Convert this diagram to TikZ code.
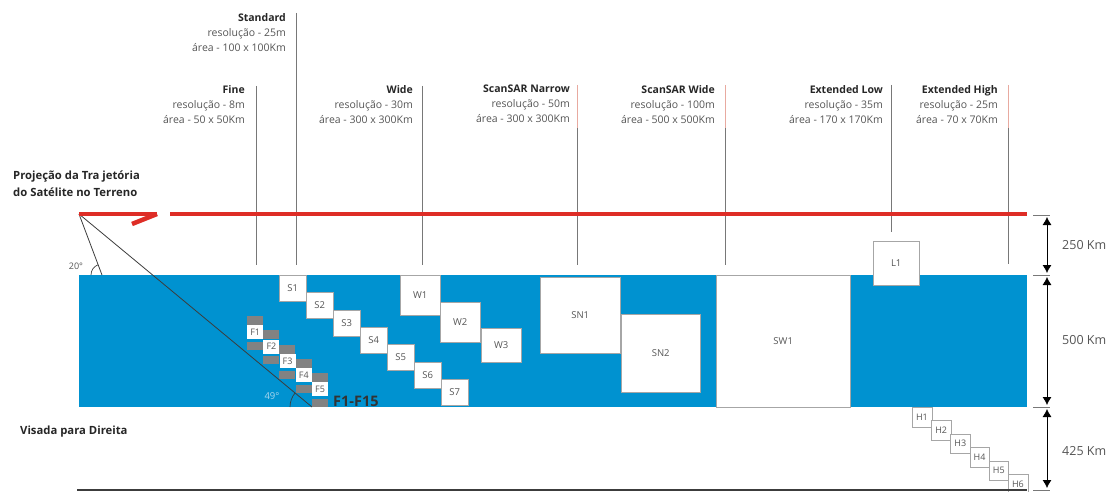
\documentclass[tikz,border=0pt]{standalone}
\usepackage{fontspec}
\setmainfont{Open Sans}
\usetikzlibrary{positioning,arrows.meta}

\definecolor{seablue}{RGB}{0,146,208}
\definecolor{trackred}{RGB}{222,45,38}
\definecolor{guidegray}{RGB}{120,120,120}
\definecolor{labelgray}{RGB}{85,85,85}
\definecolor{beamgray}{RGB}{130,130,130}
\definecolor{guidepink}{RGB}{232,170,160}
\definecolor{anglegray}{RGB}{60,60,60}
\definecolor{paleblue}{RGB}{170,215,238}

\begin{document}
\begin{tikzpicture}[x=1pt,y=-1pt,
      guide/.style={draw=guidegray,line width=0.8pt},
      pinkguide/.style={draw=guidepink,line width=0.8pt},
      track/.style={draw=trackred,line width=4.5pt},
      mode/.style={anchor=north east,align=right,inner sep=0pt,
        font=\fontsize{10.5}{15}\selectfont,text=labelgray},
      side/.style={anchor=north west,align=left,inner sep=0pt,
        font=\bfseries\fontsize{11.3}{17}\selectfont,text=black!85},
      box/.style={draw=gray!70,fill=white,inner sep=0pt,anchor=north west,
        font=\fontsize{9.5}{9.5}\selectfont,text=labelgray},
      sbox/.style={box,minimum width=27pt,minimum height=26pt},
      wbox/.style={box,minimum width=40pt,minimum height=40pt},
      hbox/.style={box,minimum width=19.5pt,minimum height=19.5pt,font=\fontsize{9}{9}\selectfont},
      fbox/.style={box,draw=none,minimum width=16pt,minimum height=14pt,font=\fontsize{9}{9}\selectfont},
      dim/.style={draw=black,line width=0.8pt,{Latex[width=9pt,length=8pt]}-{Latex[width=9pt,length=8pt]}},
      kmlabel/.style={anchor=west,inner sep=0pt,font=\fontsize{12.5}{13}\selectfont,text=labelgray}]

  \useasboundingbox (0,0) rectangle (1118,492);

  % swath on the ground
  \fill[seablue] (79,275) rectangle (1027,407);

  % look angles
  \coordinate (sat) at (79,214);
  \coordinate (near) at (102,275);
  \coordinate (far) at (312,407);
  \draw[anglegray,line width=0.8pt] (sat) -- (near);
  \draw[anglegray,line width=0.8pt] (sat) -- (far);
  \draw[anglegray,line width=0.7pt] (91,275) arc[start angle=180,end angle=249,radius=11];
  \draw[anglegray,line width=0.7pt] (290,407) arc[start angle=180,end angle=219.6,radius=22];
  \node[font=\fontsize{9}{9}\selectfont,text=labelgray] (ang20) at (76,266) {20°};
  \node[font=\fontsize{9.5}{9.5}\selectfont,text=paleblue] (ang49) at (272,396) {49°};

  % fine beams
  \fill[beamgray] (247,316) rectangle (263,325);
  \fill[beamgray] (247,342) rectangle (263,350);
  \node[fbox] (f1) at (247,325) {F1};
  \fill[beamgray] (263.2,330.3) rectangle (279.2,339.3);
  \fill[beamgray] (263.2,356.3) rectangle (279.2,364.3);
  \node[fbox] (f2) at (263.2,339.3) {F2};
  \fill[beamgray] (279.4,344.6) rectangle (295.4,353.6);
  \fill[beamgray] (279.4,370.6) rectangle (295.4,378.6);
  \node[fbox] (f3) at (279.4,353.6) {F3};
  \fill[beamgray] (295.6,358.9) rectangle (311.6,367.9);
  \fill[beamgray] (295.6,384.9) rectangle (311.6,392.9);
  \node[fbox] (f4) at (295.6,367.9) {F4};
  \fill[beamgray] (311.8,373.2) rectangle (327.8,382.2);
  \fill[beamgray] (311.8,399.2) rectangle (327.8,407);
  \node[fbox] (f5) at (311.8,382.2) {F5};
  \node[anchor=west,inner sep=0pt,font=\bfseries\fontsize{14.5}{14.5}\selectfont,text=black!80] (fall) at (333,401) {F1-F15};

  % standard beams
  \node[sbox] (s1) at (279,275) {S1};
  \node[sbox] (s2) at (306,292.4) {S2};
  \node[sbox] (s3) at (333,309.7) {S3};
  \node[sbox] (s4) at (360,327) {S4};
  \node[sbox] (s5) at (387,344.4) {S5};
  \node[sbox] (s6) at (414,361.8) {S6};
  \node[sbox] (s7) at (441,379.1) {S7};

  % wide beams
  \node[wbox] (w1) at (400,275) {W1};
  \node[wbox] (w2) at (440,302) {W2};
  \node[wbox,minimum height=34pt] (w3) at (481,328) {W3};

  % scansar
  \node[box,minimum width=80pt,minimum height=76pt] (sn1) at (540,277) {SN1};
  \node[box,minimum width=79pt,minimum height=78pt] (sn2) at (621,314) {SN2};
  \node[box,minimum width=134pt,minimum height=132pt] (sw1) at (716,275) {SW1};

  % extended
  \node[box,minimum width=46pt,minimum height=44pt] (l1) at (873,241) {L1};
  \node[hbox] (h1) at (912,407) {H1};
  \node[hbox] (h2) at (931.2,420.4) {H2};
  \node[hbox] (h3) at (950.4,433.8) {H3};
  \node[hbox] (h4) at (969.6,447.2) {H4};
  \node[hbox] (h5) at (988.8,460.6) {H5};
  \node[hbox] (h6) at (1008,474) {H6};

  % mode guides
  \draw[guide] (296,13) -- (296,265);
  \draw[guide] (256,86) -- (256,265);
  \draw[guide] (422,86) -- (422,265);
  \draw[pinkguide] (577,85) -- (577,128);
  \draw[guide] (577,128) -- (577,265);
  \draw[pinkguide] (725,85) -- (725,128);
  \draw[guide] (725,128) -- (725,265);
  \draw[guide] (891,85) -- (891,232);
  \draw[pinkguide] (1008,85) -- (1008,128);
  \draw[guide] (1008,128) -- (1008,264);

  % satellite ground track
  \draw[track] (sat) -- (157,214);
  \draw[track] (132,224) -- (157,214);
  \draw[track] (170,214) -- (1027,214);
  \draw[anglegray,line width=1.2pt] (77,490) -- (1027,490);

  % mode captions
  \node[mode] (standard) at (286,13) {\textbf{\color{black!85}Standard}\\resolução - 25m\\área - 100 x 100Km};
  \node[mode] (fine) at (245,85) {\textbf{\color{black!85}Fine}\\resolução - 8m\\área - 50 x 50Km};
  \node[mode] (wide) at (413,85) {\textbf{\color{black!85}Wide}\\resolução - 30m\\área - 300 x 300Km};
  \node[mode] (narrow) at (570,85) {\textbf{\color{black!85}ScanSAR Narrow}\\resolução - 50m\\área - 300 x 300Km};
  \node[mode] (swide) at (715,85) {\textbf{\color{black!85}ScanSAR Wide}\\resolução - 100m\\área - 500 x 500Km};
  \node[mode] (extlow) at (883,85) {\textbf{\color{black!85}Extended Low}\\resolução - 35m\\área - 170 x 170Km};
  \node[mode] (exthigh) at (998,85) {\textbf{\color{black!85}Extended High}\\resolução - 25m\\área - 70 x 70Km};

  \node[side] (trackname) at (13,171) {Projeção da Tra jetória\\do Satélite no Terreno};
  \node[side] (look) at (20,426) {Visada para Direita};

  % heights
  \coordinate (t0) at (1047,215);
  \coordinate (t1) at (1047,275);
  \coordinate (t2) at (1047,407);
  \coordinate (t3) at (1047,490);
  \draw[guidegray,line width=0.8pt] (1033,215) -- (1050,215);
  \draw[guidegray,line width=0.8pt] (1033,275) -- (1050,275);
  \draw[guidegray,line width=0.8pt] (1033,407) -- (1050,407);
  \draw[guidegray,line width=0.8pt] (1033,490) -- (1050,490);
  \draw[dim] ([yshift=-2pt]t0) -- ([yshift=2pt]t1);
  \draw[dim] ([yshift=-2pt]t1) -- ([yshift=2pt]t2);
  \draw[dim] ([yshift=-2pt]t2) -- ([yshift=2pt]t3);
  \node[kmlabel] (km250) at (1062,245) {250 Km};
  \node[kmlabel] (km500) at (1062,340) {500 Km};
  \node[kmlabel] (km425) at (1062,451) {425 Km};
\end{tikzpicture}
\end{document}
